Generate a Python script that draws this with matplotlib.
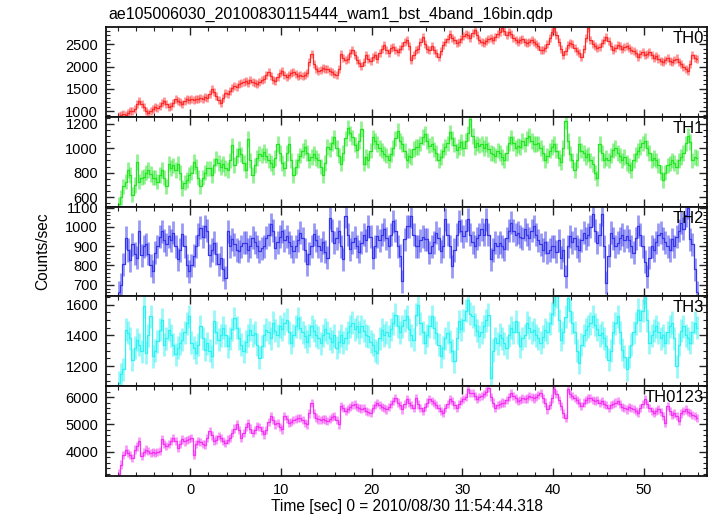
import numpy as np
import matplotlib.pyplot as plt
from matplotlib.ticker import MultipleLocator

plt.rcParams['font.family'] = ['Liberation Sans', 'DejaVu Sans']

title = "ae105006030_20100830115444_wam1_bst_4band_16bin.qdp"
xlabel = "Time [sec] 0 = 2010/08/30 11:54:44.318"
ylabel = "Counts/sec"

# 16-bin light curve: 0.25 s bins starting at -8 s
t_start = -8.0
bin_width = 0.25

th0 = [
    880, 900, 930, 920, 960, 990, 1010, 1050,
    1150, 1220, 1160, 1080, 1000, 960, 990, 1040,
    1080, 1060, 1120, 1180, 1230, 1150, 1090, 1120,
    1180, 1260, 1230, 1200, 1150, 1220, 1260, 1250,
    1270, 1240, 1280, 1260, 1300, 1280, 1310, 1290,
    1390, 1490, 1420, 1340, 1250, 1190, 1300, 1410,
    1380, 1460, 1520, 1570, 1540, 1600, 1620, 1660,
    1680, 1620, 1700, 1660, 1640, 1600, 1660, 1700,
    1720, 1800, 1870, 1780, 1700, 1680, 1760, 1850,
    1910, 1820, 1760, 1800, 1850, 1870, 1830, 1790,
    1820, 1780, 1800, 1850, 2100, 2290, 2050, 1950,
    1900, 1930, 1960, 1940, 1950, 1900, 1870, 1830,
    1800, 1950, 2290, 2200, 2140, 2180, 2300, 2365,
    2260, 2150, 2080, 2020, 2100, 2250, 2180, 2120,
    2210, 2250, 2180, 2300, 2400, 2480, 2380, 2300,
    2420, 2440, 2360, 2320, 2400, 2470, 2540, 2590,
    2450, 2150, 2250, 2365, 2400, 2550, 2670, 2500,
    2400, 2360, 2450, 2380, 2300, 2220, 2350, 2480,
    2550, 2620, 2740, 2650, 2600, 2520, 2560, 2620,
    2680, 2740, 2700, 2640, 2760, 2820, 2700, 2600,
    2560, 2520, 2580, 2620, 2650, 2600, 2670, 2720,
    2780, 2860, 2800, 2700, 2780, 2740, 2650, 2600,
    2560, 2600, 2620, 2560, 2520, 2560, 2600, 2540,
    2500, 2450, 2380, 2360, 2420, 2500, 2650, 2780,
    2860, 2700, 2550, 2400, 2250, 2350, 2480, 2520,
    2500, 2420, 2350, 2300, 2213, 2400, 2650, 2860,
    2600, 2500, 2450, 2420, 2440, 2520, 2600, 2666,
    2580, 2450, 2365, 2420, 2480, 2460, 2400, 2440,
    2460, 2420, 2380, 2350, 2300, 2220, 2280, 2320,
    2260, 2290, 2320, 2250, 2200, 2240, 2180, 2120,
    2100, 2150, 2200, 2120, 2099, 2150, 2180, 2100,
    2050, 2000, 1950, 1909, 2050, 2250, 2200, 2175,
]

th1 = [
    542, 600, 688, 728, 822, 780, 622, 700,
    888, 728, 760, 768, 800, 822, 790, 760,
    760, 728, 780, 822, 760, 688, 875, 840,
    860, 822, 875, 800, 675, 720, 742, 780,
    800, 888, 850, 760, 688, 760, 800, 835,
    835, 782, 860, 915, 880, 848, 870, 840,
    822, 900, 1022, 862, 940, 995, 950, 880,
    822, 1075, 900, 782, 860, 920, 955, 940,
    970, 940, 900, 880, 848, 920, 1035, 960,
    880, 835, 960, 1035, 900, 782, 850, 900,
    940, 980, 1010, 960, 900, 930, 955, 920,
    900, 850, 782, 880, 1010, 990, 1040, 1088,
    1000, 940, 875, 960, 1080, 1168, 1120, 1088,
    1030, 982, 1060, 1155, 875, 930, 900, 980,
    1088, 1060, 1035, 1000, 980, 955, 940, 900,
    950, 1000, 1080, 1142, 1060, 1035, 980, 900,
    940, 928, 995, 1010, 1008, 1040, 1090, 1115,
    1060, 1020, 1035, 990, 960, 900, 930, 980,
    1008, 1040, 1128, 1080, 1030, 982, 1010, 1050,
    1000, 1060, 1120, 1235, 1100, 1008, 1040, 1020,
    1035, 1000, 1035, 990, 960, 955, 940, 980,
    960, 930, 900, 960, 1040, 1088, 1040, 1000,
    1020, 1008, 1060, 1030, 1080, 1102, 1060, 1035,
    1035, 1040, 1000, 960, 900, 940, 980, 1010,
    1035, 980, 920, 888, 1000, 1222, 1060, 955,
    900, 822, 900, 1035, 980, 960, 928, 950,
    900, 870, 800, 755, 1035, 960, 900, 920,
    900, 940, 982, 1000, 960, 940, 900, 928,
    880, 860, 822, 900, 950, 980, 1008, 1040,
    1062, 1000, 960, 900, 920, 900, 860, 800,
    742, 800, 860, 875, 900, 880, 850, 900,
    928, 960, 1040, 1102, 1050, 900, 928, 920,
]

th2 = [
    660, 700, 805, 944, 880, 826, 909, 860,
    840, 978, 852, 900, 909, 860, 800, 770,
    865, 900, 950, 978, 930, 909, 952, 930,
    969, 900, 831, 880, 961, 900, 800, 770,
    800, 850, 900, 960, 995, 950, 1004, 980,
    852, 880, 917, 860, 805, 840, 780, 735,
    978, 900, 935, 910, 880, 874, 900, 917,
    917, 880, 900, 944, 920, 900, 874, 890,
    900, 944, 960, 1013, 980, 891, 920, 950,
    978, 930, 952, 920, 900, 874, 900, 930,
    969, 940, 880, 805, 860, 900, 961, 930,
    900, 880, 920, 870, 840, 1048, 980, 917,
    940, 978, 900, 831, 1056, 960, 883, 920,
    944, 900, 870, 917, 960, 930, 1004, 950,
    840, 900, 952, 930, 960, 987, 940, 900,
    960, 1030, 980, 900, 850, 718, 935, 1004,
    1004, 1056, 960, 900, 900, 930, 950, 935,
    935, 865, 900, 920, 969, 940, 874, 900,
    1039, 960, 900, 796, 880, 960, 1030, 980,
    952, 980, 1039, 960, 920, 900, 940, 960,
    987, 960, 1039, 960, 831, 880, 917, 900,
    917, 900, 883, 940, 980, 1021, 980, 960,
    969, 950, 940, 987, 960, 940, 980, 1004,
    960, 930, 909, 880, 920, 865, 880, 900,
    900, 870, 930, 840, 880, 744, 900, 952,
    920, 940, 900, 880, 930, 969, 940, 960,
    1000, 1065, 980, 917, 960, 1065, 900, 709,
    850, 969, 940, 900, 917, 940, 960, 930,
    952, 930, 900, 865, 940, 1004, 960, 900,
    820, 744, 840, 900, 880, 920, 960, 969,
    940, 920, 900, 880, 935, 900, 950, 980,
    1021, 990, 1060, 1100, 935, 909, 780, 660,
]

th3 = [
    1090, 1146, 1178, 1438, 1416, 1380, 1243, 1319,
    1373, 1340, 1297, 1589, 1286, 1400, 1524, 1265,
    1300, 1362, 1438, 1503, 1340, 1380, 1438, 1400,
    1340, 1276, 1320, 1350, 1373, 1420, 1480, 1524,
    1351, 1320, 1286, 1340, 1459, 1380, 1308, 1350,
    1300, 1265, 1492, 1420, 1373, 1400, 1449, 1400,
    1330, 1380, 1440, 1513, 1450, 1380, 1340, 1297,
    1360, 1400, 1438, 1400, 1416, 1340, 1254, 1330,
    1400, 1438, 1420, 1380, 1481, 1430, 1400, 1459,
    1440, 1480, 1503, 1420, 1351, 1400, 1460, 1513,
    1450, 1420, 1395, 1360, 1400, 1459, 1430, 1400,
    1384, 1350, 1400, 1440, 1416, 1380, 1360, 1400,
    1319, 1360, 1400, 1351, 1380, 1420, 1460, 1481,
    1440, 1460, 1420, 1459, 1430, 1400, 1395, 1360,
    1340, 1300, 1286, 1380, 1438, 1400, 1420, 1395,
    1440, 1480, 1535, 1460, 1420, 1459, 1500, 1524,
    1440, 1400, 1373, 1535, 1600, 1480, 1420, 1351,
    1400, 1460, 1524, 1450, 1416, 1340, 1265, 1320,
    1380, 1416, 1360, 1300, 1232, 1380, 1492, 1440,
    1500, 1560, 1632, 1540, 1524, 1470, 1430, 1395,
    1420, 1460, 1500, 1535, 1124, 1300, 1380, 1350,
    1405, 1380, 1350, 1319, 1400, 1450, 1420, 1492,
    1420, 1330, 1380, 1400, 1481, 1450, 1420, 1438,
    1400, 1380, 1351, 1390, 1438, 1420, 1480, 1540,
    1600, 1654, 1500, 1373, 1420, 1520, 1643, 1560,
    1481, 1420, 1300, 1221, 1340, 1400, 1438, 1460,
    1480, 1524, 1470, 1440, 1400, 1416, 1380, 1330,
    1243, 1300, 1420, 1480, 1524, 1420, 1308, 1260,
    1178, 1260, 1340, 1420, 1480, 1567, 1500, 1560,
    1654, 1500, 1351, 1400, 1430, 1459, 1420, 1380,
    1400, 1351, 1420, 1460, 1481, 1380, 1200, 1340,
    1430, 1459, 1400, 1380, 1351, 1420, 1481, 1450,
]

th0123 = [
    3210, 3537, 3900, 4086, 3964, 3880, 3781, 4086,
    4200, 4390, 3842, 4000, 4086, 4020, 3960, 4000,
    3964, 4000, 4025, 4452, 4300, 4208, 4300, 4400,
    4513, 4400, 4147, 4300, 4452, 4380, 4420, 4480,
    4513, 3903, 4300, 4390, 4350, 4300, 4269, 4500,
    4756, 4600, 4390, 4450, 4574, 4500, 4400, 4330,
    4450, 4513, 4700, 4850, 5000, 4800, 4513, 4700,
    4900, 5061, 4850, 4696, 4800, 4940, 4900, 4780,
    4635, 4800, 5100, 5305, 5150, 5000, 5050, 4900,
    4818, 5305, 5200, 5061, 5100, 5150, 5200, 5244,
    5244, 5150, 5050, 5000, 5400, 5793, 5400, 5250,
    5183, 5150, 5200, 5180, 5122, 5200, 5260, 5305,
    5150, 5000, 5671, 5600, 5488, 5550, 5650, 5700,
    5732, 5650, 5600, 5580, 5610, 5500, 5450, 5427,
    5600, 5700, 5793, 5700, 5650, 5600, 5549, 5650,
    5750, 5850, 5976, 5800, 5700, 5549, 5750, 5915,
    5800, 5700, 5610, 5976, 5732, 5600, 5488, 5650,
    5800, 5915, 5850, 5793, 5700, 5600, 5500, 5427,
    5600, 5750, 5915, 5850, 5700, 5610, 5750, 5850,
    5915, 6000, 6282, 6150, 6160, 6050, 5915, 6000,
    6050, 6100, 6200, 6343, 6000, 5800, 5610, 5700,
    5750, 5800, 5793, 5900, 6000, 6160, 6050, 5950,
    5854, 5900, 5950, 5915, 5950, 6037, 6000, 5950,
    6000, 6080, 6160, 5950, 5800, 5549, 5700, 5950,
    6282, 6100, 5900, 5671, 5400, 5244, 6282, 6100,
    6050, 5976, 5900, 5800, 5671, 5800, 5900, 5950,
    5976, 5900, 5850, 5900, 5793, 5850, 5750, 5700,
    5610, 5700, 5750, 5800, 5854, 5750, 5650, 5600,
    5549, 5650, 5600, 5550, 5500, 5427, 5600, 5750,
    5915, 5750, 5600, 5500, 5427, 5500, 5549, 5450,
    5300, 5061, 5671, 5500, 5350, 5400, 5300, 5122,
    5400, 5500, 5549, 5450, 5427, 5350, 5300, 5244,
]

names = ["TH0", "TH1", "TH2", "TH3", "TH0123"]
series = [th0, th1, th2, th3, th0123]
errors = [90, 63, 60, 75, 150]   # typical 1-sigma error per band
colors = ["#ff2a2a", "#22e622", "#3535ee", "#2ef2f2", "#f533f5"]
ylims = [(865, 2880), (523, 1254), (639, 1105), (1070, 1654), (3130, 6400)]
ymajor = [500, 200, 100, 200, 1000]
yminor = [100, 50, 20, 50, 200]

t = t_start + bin_width * (np.arange(len(th0)) + 0.5)

fig = plt.figure(figsize=(7.17, 5.16), dpi=100)
axes = fig.subplots(5, 1, sharex=True, gridspec_kw=dict(hspace=0))
fig.subplots_adjust(left=0.1485, right=0.986, top=0.947, bottom=0.078)

for ax, name, y, err, c, yl, mj, mn in zip(axes, names, series, errors, colors, ylims, ymajor, yminor):
    y = np.array(y, dtype=float)
    ax.errorbar(t, y, yerr=err, fmt='none', ecolor=c, elinewidth=2.0, alpha=0.5)
    ax.step(t, y, where='mid', color=c, lw=0.9)
    ax.set_ylim(*yl)
    ax.yaxis.set_major_locator(MultipleLocator(mj))
    ax.yaxis.set_minor_locator(MultipleLocator(mn))
    ax.xaxis.set_major_locator(MultipleLocator(10))
    ax.xaxis.set_minor_locator(MultipleLocator(2))
    ax.tick_params(which='both', direction='in', top=True, right=True, colors='#222222', labelcolor='black')
    ax.tick_params(which='major', length=6, width=1.0, labelsize=10.5, pad=6)
    ax.tick_params(which='minor', length=3, width=0.8)
    for sp in ax.spines.values():
        sp.set_linewidth(1.3)
        sp.set_color('#111111')
    ax.text(0.995, 0.955, name, transform=ax.transAxes, ha='right', va='top', fontsize=12)

axes[-1].set_xlim(-9.24, 56.97)
axes[-1].tick_params(axis='x', pad=5)

fig.text(0.151, 0.972, title, ha='left', va='center', fontsize=11.5)
fig.text(0.568, 0.018, xlabel, ha='center', va='center', fontsize=11.2)
fig.text(0.06, 0.513, ylabel, ha='center', va='center', rotation=90, fontsize=11.2)

fig.savefig('out.png', dpi=100)
